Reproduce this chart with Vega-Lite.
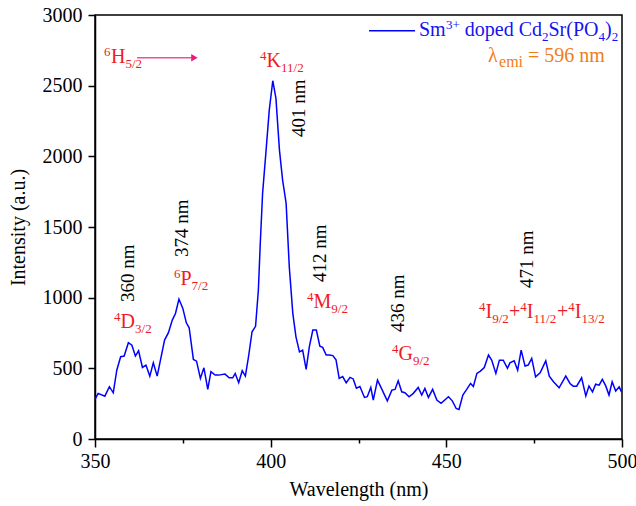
{
  "$schema": "https://vega.github.io/schema/vega-lite/v6.json",
  "width": 527,
  "height": 424,
  "autosize": {"type": "none"},
  "padding": {"left": 95, "top": 15, "right": 14, "bottom": 67},
  "background": "white",
  "config": {
    "font": "Liberation Serif",
    "view": {"stroke": "black", "strokeWidth": 1.5},
    "axis": {
      "domainColor": "black", "domainWidth": 1.5, "tickColor": "black", "tickWidth": 1.5,
      "labelColor": "black", "titleColor": "black", "labelFont": "Liberation Serif", "titleFont": "Liberation Serif",
      "labelFontSize": 20, "titleFontSize": 20, "titleFontWeight": "normal", "grid": false, "labelOverlap": false
    }
  },
  "datasets": {
    "spec": [
      {"x":350.0,"y":280},{"x":350.9,"y":323},{"x":352.8,"y":303},{"x":354.1,"y":370},{"x":355.2,"y":327},
      {"x":356.2,"y":487},{"x":357.3,"y":582},{"x":358.3,"y":587},{"x":359.5,"y":681},{"x":360.5,"y":664},
      {"x":361.5,"y":587},{"x":362.4,"y":624},{"x":363.5,"y":506},{"x":364.5,"y":523},{"x":365.6,"y":445},
      {"x":366.6,"y":539},{"x":367.7,"y":445},{"x":369.8,"y":700},{"x":370.9,"y":752},{"x":372.0,"y":841},
      {"x":372.9,"y":888},{"x":373.9,"y":990},{"x":375.0,"y":924},{"x":376.0,"y":822},{"x":376.8,"y":787},
      {"x":378.0,"y":563},{"x":378.9,"y":551},{"x":380.0,"y":429},{"x":381.0,"y":504},{"x":382.1,"y":351},
      {"x":383.0,"y":476},{"x":384.2,"y":452},{"x":385.2,"y":452},{"x":387.0,"y":459},{"x":388.2,"y":433},
      {"x":389.2,"y":433},{"x":389.9,"y":464},{"x":390.9,"y":398},{"x":391.9,"y":483},{"x":392.8,"y":445},
      {"x":393.7,"y":582},{"x":394.7,"y":759},{"x":395.7,"y":797},{"x":396.5,"y":1054},{"x":397.0,"y":1360},
      {"x":397.7,"y":1738},{"x":398.7,"y":2044},{"x":399.6,"y":2327},{"x":400.6,"y":2535},{"x":401.5,"y":2410},
      {"x":402.5,"y":2044},{"x":403.4,"y":1832},{"x":404.4,"y":1667},{"x":405.3,"y":1218},{"x":406.3,"y":889},
      {"x":407.2,"y":723},{"x":408.2,"y":617},{"x":409.1,"y":629},{"x":410.1,"y":492},{"x":411.0,"y":652},
      {"x":412.0,"y":771},{"x":413.0,"y":771},{"x":414.0,"y":657},{"x":414.8,"y":648},{"x":415.8,"y":594},
      {"x":416.7,"y":594},{"x":417.7,"y":590},{"x":418.6,"y":560},{"x":419.5,"y":429},{"x":420.5,"y":442},
      {"x":421.5,"y":398},{"x":422.6,"y":436},{"x":423.5,"y":425},{"x":424.4,"y":360},{"x":425.4,"y":371},
      {"x":426.7,"y":294},{"x":427.5,"y":299},{"x":428.5,"y":365},{"x":429.2,"y":275},{"x":430.4,"y":417},
      {"x":431.4,"y":365},{"x":433.2,"y":270},{"x":434.5,"y":346},{"x":435.4,"y":351},{"x":436.3,"y":412},
      {"x":437.3,"y":334},{"x":438.2,"y":327},{"x":439.4,"y":299},{"x":440.6,"y":323},{"x":442.0,"y":365},
      {"x":443.0,"y":311},{"x":443.9,"y":358},{"x":444.9,"y":294},{"x":446.1,"y":351},{"x":447.3,"y":275},
      {"x":448.5,"y":252},{"x":450.6,"y":299},{"x":451.7,"y":270},{"x":452.8,"y":216},{"x":453.6,"y":209},
      {"x":454.7,"y":311},{"x":455.8,"y":351},{"x":456.9,"y":393},{"x":457.7,"y":371},{"x":458.7,"y":464},
      {"x":459.7,"y":480},{"x":460.8,"y":506},{"x":462.0,"y":594},{"x":462.9,"y":558},{"x":464.1,"y":464},
      {"x":465.1,"y":558},{"x":466.2,"y":558},{"x":467.4,"y":500},{"x":468.1,"y":539},{"x":469.3,"y":553},
      {"x":470.3,"y":487},{"x":471.3,"y":629},{"x":472.4,"y":516},{"x":473.3,"y":523},{"x":474.3,"y":570},
      {"x":475.4,"y":440},{"x":476.7,"y":469},{"x":478.3,"y":553},{"x":479.3,"y":445},{"x":480.5,"y":405},
      {"x":482.1,"y":362},{"x":484.0,"y":445},{"x":485.2,"y":393},{"x":486.1,"y":374},{"x":487.1,"y":374},
      {"x":488.5,"y":433},{"x":489.7,"y":304},{"x":490.6,"y":374},{"x":491.6,"y":334},{"x":492.5,"y":388},
      {"x":493.5,"y":381},{"x":494.4,"y":422},{"x":495.4,"y":374},{"x":496.3,"y":311},{"x":497.2,"y":405},
      {"x":498.2,"y":339},{"x":499.2,"y":369},{"x":499.9,"y":332}
    ],
    "pieces": [
      {"x":352.56,"y":2660,"t":"6","k":"sup","c":"red"},
      {"x":354.55,"y":2660,"t":"H","k":"main","c":"red"},
      {"x":358.68,"y":2660,"t":"5/2","k":"sub","c":"red"},
      {"x":396.96,"y":2632,"t":"4","k":"sup","c":"red"},
      {"x":398.81,"y":2632,"t":"K","k":"main","c":"red"},
      {"x":402.94,"y":2632,"t":"11/2","k":"sub","c":"red"},
      {"x":372.49,"y":1090,"t":"6","k":"sup","c":"red"},
      {"x":374.34,"y":1090,"t":"P","k":"main","c":"red"},
      {"x":377.50,"y":1090,"t":"7/2","k":"sub","c":"red"},
      {"x":355.41,"y":785,"t":"4","k":"sup","c":"red"},
      {"x":357.26,"y":785,"t":"D","k":"main","c":"red"},
      {"x":361.39,"y":785,"t":"3/2","k":"sub","c":"red"},
      {"x":410.34,"y":927,"t":"4","k":"sup","c":"red"},
      {"x":412.19,"y":927,"t":"M","k":"main","c":"red"},
      {"x":417.26,"y":927,"t":"9/2","k":"sub","c":"red"},
      {"x":434.54,"y":559,"t":"4","k":"sup","c":"red"},
      {"x":436.39,"y":559,"t":"G","k":"main","c":"red"},
      {"x":440.51,"y":559,"t":"9/2","k":"sub","c":"red"},
      {"x":459.30,"y":856,"t":"4","k":"sup","c":"red"},
      {"x":461.15,"y":856,"t":"I","k":"main","c":"red"},
      {"x":463.06,"y":856,"t":"9/2","k":"sub","c":"red"},
      {"x":467.84,"y":856,"t":"+","k":"main","c":"red"},
      {"x":471.06,"y":856,"t":"4","k":"sup","c":"red"},
      {"x":472.91,"y":856,"t":"I","k":"main","c":"red"},
      {"x":474.81,"y":856,"t":"11/2","k":"sub","c":"red"},
      {"x":481.50,"y":856,"t":"+","k":"main","c":"red"},
      {"x":484.72,"y":856,"t":"4","k":"sup","c":"red"},
      {"x":486.57,"y":856,"t":"I","k":"main","c":"red"},
      {"x":488.48,"y":856,"t":"13/2","k":"sub","c":"red"},
      {"x":442.22,"y":2851,"t":"Sm","k":"main","c":"blue"},
      {"x":449.91,"y":2851,"t":"3+","k":"sup","c":"blue"},
      {"x":455.26,"y":2851,"t":"doped Cd","k":"main","c":"blue"},
      {"x":477.23,"y":2851,"t":"2","k":"sub","c":"blue"},
      {"x":479.08,"y":2851,"t":"Sr(PO","k":"main","c":"blue"},
      {"x":493.31,"y":2851,"t":"4","k":"sub","c":"blue"},
      {"x":495.16,"y":2851,"t":")","k":"main","c":"blue"},
      {"x":497.07,"y":2851,"t":"2","k":"sub","c":"blue"},
      {"x":461.86,"y":2668,"t":"λ","k":"main","c":"orange"},
      {"x":465.0,"y":2668,"t":"emi","k":"subL","c":"orange"},
      {"x":473.25,"y":2668,"t":"= 596 nm","k":"main","c":"orange"}
    ],
    "peaks": [
      {"x":359.39,"y":969,"t":"360 nm"},
      {"x":374.76,"y":1288,"t":"374 nm"},
      {"x":408.07,"y":2137,"t":"401 nm"},
      {"x":414.04,"y":1111,"t":"412 nm"},
      {"x":436.24,"y":757,"t":"436 nm"},
      {"x":472.96,"y":1068,"t":"471 nm"}
    ]
  },
  "layer": [
    {
      "data": {"name": "spec"},
      "mark": {"type": "line", "color": "#0000ff", "strokeWidth": 1.5, "clip": true},
      "encoding": {
        "x": {"field": "x", "type": "quantitative",
          "scale": {"domain": [350, 500], "nice": false, "zero": false},
          "axis": {"title": "Wavelength (nm)", "values": [350,375,400,425,450,475,500], "format": "d",
            "tickSize": {"condition": {"test": "datum.value % 50 !== 0", "value": 4}, "value": 8},
            "labelExpr": "datum.value % 50 === 0 ? datum.label : ''",
            "labelPadding": 4, "titlePadding": 8, "labelFlush": false}},
        "y": {"field": "y", "type": "quantitative",
          "scale": {"domain": [0, 3000], "nice": false, "zero": false},
          "axis": {"title": "Intensity (a.u.)", "values": [0,250,500,750,1000,1250,1500,1750,2000,2250,2500,2750,3000], "format": "d",
            "tickSize": {"condition": {"test": "datum.value % 500 !== 0", "value": 4}, "value": 7},
            "labelExpr": "datum.value % 500 === 0 ? datum.label : ''",
            "labelPadding": 6, "titlePadding": 14, "labelFlush": false}}
      }
    },
    {
      "data": {"values": [{"x": 361.95, "x2": 377.6, "y": 2698}]},
      "mark": {"type": "rule", "color": "#f0509a", "strokeWidth": 1.5},
      "encoding": {"x": {"field": "x", "type": "quantitative"}, "x2": {"field": "x2"}, "y": {"field": "y", "type": "quantitative"}}
    },
    {
      "data": {"values": [{"x": 378.3, "y": 2698}]},
      "mark": {"type": "point", "shape": "triangle-right", "filled": true, "color": "#ee1a7a", "size": 55, "opacity": 1},
      "encoding": {"x": {"field": "x", "type": "quantitative"}, "y": {"field": "y", "type": "quantitative"}}
    },
    {
      "data": {"values": [{"x": 428.0, "x2": 441.1, "y": 2889}]},
      "mark": {"type": "rule", "color": "#0000ff", "strokeWidth": 1.5},
      "encoding": {"x": {"field": "x", "type": "quantitative"}, "x2": {"field": "x2"}, "y": {"field": "y", "type": "quantitative"}}
    },
    {
      "data": {"name": "pieces"},
      "transform": [{"filter": "datum.k === 'main'"}],
      "mark": {"type": "text", "align": "left", "baseline": "alphabetic", "fontSize": 20, "font": "Liberation Serif"},
      "encoding": {"x": {"field": "x", "type": "quantitative"}, "y": {"field": "y", "type": "quantitative"}, "text": {"field": "t"},
        "color": {"field": "c", "type": "nominal", "scale": {"domain": ["red","blue","orange"], "range": ["#ee1c24","#1414f0","#f07d1a"]}, "legend": null}}
    },
    {
      "data": {"name": "pieces"},
      "transform": [{"filter": "datum.k === 'sup'"}],
      "mark": {"type": "text", "align": "left", "baseline": "alphabetic", "fontSize": 13, "dy": -7, "font": "Liberation Serif"},
      "encoding": {"x": {"field": "x", "type": "quantitative"}, "y": {"field": "y", "type": "quantitative"}, "text": {"field": "t"},
        "color": {"field": "c", "type": "nominal", "scale": {"domain": ["red","blue","orange"], "range": ["#ee1c24","#1414f0","#f07d1a"]}, "legend": null}}
    },
    {
      "data": {"name": "pieces"},
      "transform": [{"filter": "datum.k === 'sub'"}],
      "mark": {"type": "text", "align": "left", "baseline": "alphabetic", "fontSize": 13, "dy": 5, "font": "Liberation Serif"},
      "encoding": {"x": {"field": "x", "type": "quantitative"}, "y": {"field": "y", "type": "quantitative"}, "text": {"field": "t"},
        "color": {"field": "c", "type": "nominal", "scale": {"domain": ["red","blue","orange"], "range": ["#ee1c24","#1414f0","#f07d1a"]}, "legend": null}}
    },
    {
      "data": {"name": "pieces"},
      "transform": [{"filter": "datum.k === 'subL'"}],
      "mark": {"type": "text", "align": "left", "baseline": "alphabetic", "fontSize": 16, "dy": 5, "font": "Liberation Serif"},
      "encoding": {"x": {"field": "x", "type": "quantitative"}, "y": {"field": "y", "type": "quantitative"}, "text": {"field": "t"},
        "color": {"field": "c", "type": "nominal", "scale": {"domain": ["red","blue","orange"], "range": ["#ee1c24","#1414f0","#f07d1a"]}, "legend": null}}
    },
    {
      "data": {"name": "peaks"},
      "mark": {"type": "text", "align": "left", "baseline": "middle", "angle": 270, "fontSize": 19, "font": "Liberation Serif", "color": "black"},
      "encoding": {"x": {"field": "x", "type": "quantitative"}, "y": {"field": "y", "type": "quantitative"}, "text": {"field": "t"}}
    }
  ]
}
